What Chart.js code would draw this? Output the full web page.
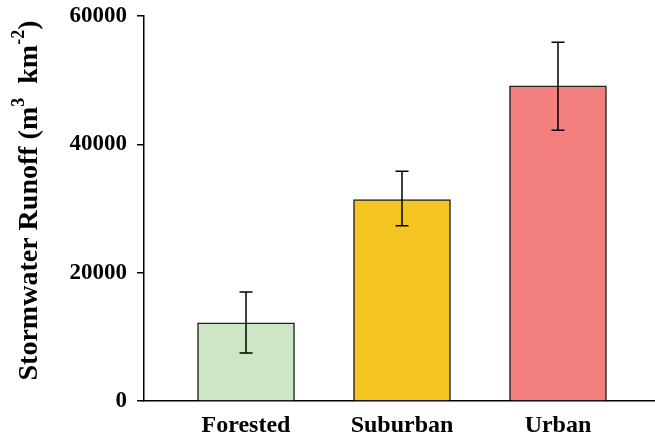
<!DOCTYPE html>
<html>
<head>
<meta charset="utf-8">
<script src="https://cdn.jsdelivr.net/npm/chart.js@4"></script>
<style>
  body { margin: 0; background: #fff; }
  #wrap { width: 655px; height: 439px; }
</style>
</head>
<body>
<div id="wrap"><canvas id="barChart"></canvas></div>
<script>
// data
const categories = ['Forested', 'Suburban', 'Urban'];
const runoff = [12200, 31400, 49100];
const errHigh = [17000, 35800, 55900];
const errLow = [7500, 27300, 42200];
const yTicks = [0, 20000, 40000, 60000];
const barColors = ['#cde6c6', '#f5c623', '#f37f7f'];
// axis title pieces: [text, superscript?]
const yTitle = [['Stormwater Runoff (m', false], ['3', true], ['  km', false], ['-2', true], [')', false]];

const serif = '"Liberation Serif", "Times New Roman", serif';

grafico_barras()

function grafico_barras(){
  const errorBars = {
    id: 'errorBars',
    afterDatasetsDraw(chart) {
      const ctx = chart.ctx;
      const x = chart.scales.x, y = chart.scales.y;
      ctx.save();
      ctx.strokeStyle = '#000';
      ctx.lineWidth = 1.5;
      categories.forEach((c, i) => {
        const px = x.getPixelForValue(i);
        const top = y.getPixelForValue(errHigh[i]);
        const bot = y.getPixelForValue(errLow[i]);
        ctx.beginPath();
        ctx.moveTo(px, top); ctx.lineTo(px, bot);
        ctx.moveTo(px - 6.5, top); ctx.lineTo(px + 6.5, top);
        ctx.moveTo(px - 6.5, bot); ctx.lineTo(px + 6.5, bot);
        ctx.stroke();
      });
      ctx.restore();
    }
  };

  const axisTitle = {
    id: 'axisTitle',
    afterDraw(chart) {
      const ctx = chart.ctx;
      const area = chart.chartArea;
      const main = 'bold 28px ' + serif;
      const sup = 'bold 18px ' + serif;
      ctx.save();
      let total = 0;
      yTitle.forEach(p => { ctx.font = p[1] ? sup : main; total += ctx.measureText(p[0]).width; });
      ctx.translate(30, (area.top + area.bottom) / 2 - 8);
      ctx.rotate(-Math.PI / 2);
      ctx.fillStyle = '#000';
      ctx.textBaseline = 'middle';
      let pos = -total / 2;
      yTitle.forEach(p => {
        ctx.font = p[1] ? sup : main;
        ctx.fillText(p[0], pos, p[1] ? -11 : 0);
        pos += ctx.measureText(p[0]).width;
      });
      ctx.restore();
    }
  };

  let ctx = document.getElementById('barChart').getContext('2d');
  let barChart = new Chart(ctx, {
    type: 'bar',
    data: {
      datasets: [{
        data: runoff.map((v, i) => ({ x: i, y: v })),
        backgroundColor: barColors,
        borderColor: '#222',
        borderWidth: 1.5,
        barThickness: 97
      }]
    },
    options: {
      responsive: true,
      maintainAspectRatio: false,
      animation: false,
      layout: { padding: { top: 16, right: 0, bottom: 0, left: 0 } },
      plugins: { legend: { display: false }, tooltip: { enabled: false } },
      scales: {
        x: {
          type: 'linear',
          offset: false,
          min: -0.654,
          max: 2.622,
          afterBuildTicks: s => { s.ticks = categories.map((c, i) => ({ value: i })); },
          afterFit: s => { s.height = 38; s.paddingLeft = 0; s.paddingRight = 0; },
          grid: { display: false, drawTicks: false, offset: false },
          border: { display: true, color: '#000', width: 1.5 },
          ticks: {
            padding: 10,
            color: '#000',
            font: { family: serif, size: 24, weight: 'bold' },
            callback: v => categories[v]
          }
        },
        y: {
          min: 0,
          max: 60000,
          afterBuildTicks: s => { s.ticks = yTicks.map(v => ({ value: v })); },
          afterFit: s => { s.width = 144; s.paddingTop = 0; s.paddingBottom = 0; },
          grid: { drawOnChartArea: false, drawTicks: true, tickLength: 7, color: '#000', lineWidth: 1.5 },
          border: { display: true, color: '#000', width: 1.5 },
          ticks: {
            padding: 10,
            color: '#000',
            font: { family: serif, size: 23, weight: 'bold' },
            callback: v => String(v)
          }
        }
      }
    },
    plugins: [errorBars, axisTitle]
  });
}
</script>
</body>
</html>
